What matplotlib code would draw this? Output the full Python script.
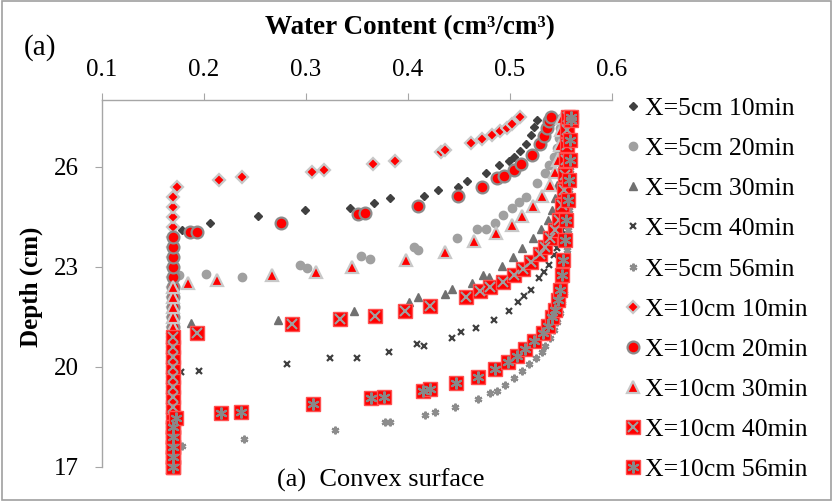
import numpy as np
import matplotlib.pyplot as plt
from matplotlib.patches import Rectangle
from matplotlib.legend_handler import HandlerTuple

plt.rcParams['font.family'] = ['Liberation Serif', 'DejaVu Serif']

# initial water content below the wetting front, and the node depths of that column
INITIAL_THETA = 0.17
COLUMN_DEPTHS = [17.0, 17.3, 17.6, 17.9, 18.2, 18.5, 18.8, 19.1, 19.4, 19.7,
                 20.0, 20.3, 20.6, 20.9, 21.2, 21.5, 21.8, 22.1, 22.4, 22.7,
                 23.0, 23.3, 23.6, 23.9, 24.2, 24.5, 24.8, 25.1]

# profiles above the front: water content (cm3/cm3) and depth (cm)
THETA_5_10 = [0.178, 0.206, 0.253, 0.299, 0.343, 0.367, 0.382, 0.416, 0.429, 0.449,
              0.458, 0.476, 0.489, 0.499, 0.504, 0.510, 0.516, 0.521, 0.524, 0.526]
DEPTH_5_10 = [24.11, 24.32, 24.53, 24.71, 24.77, 24.92, 25.07, 25.13, 25.31, 25.40,
              25.58, 25.82, 26.06, 26.18, 26.30, 26.48, 26.69, 26.96, 27.20, 27.41]

THETA_5_20 = [0.175, 0.202, 0.237, 0.294, 0.301, 0.354, 0.363, 0.406, 0.410, 0.448,
              0.468, 0.476, 0.485, 0.493, 0.502, 0.509, 0.516, 0.526, 0.534, 0.538,
              0.543, 0.546, 0.548, 0.549, 0.550]
DEPTH_5_20 = [22.76, 22.79, 22.70, 23.06, 22.97, 23.33, 23.24, 23.60, 23.51, 23.87,
              24.14, 24.14, 24.32, 24.56, 24.77, 24.95, 25.10, 25.52, 25.82, 26.06,
              26.30, 26.57, 26.87, 27.17, 27.47]

THETA_5_30 = [0.187, 0.273, 0.347, 0.401, 0.410, 0.436, 0.443, 0.463, 0.474, 0.479,
              0.492, 0.503, 0.512, 0.523, 0.530, 0.537, 0.541, 0.544, 0.546, 0.548,
              0.549, 0.550, 0.551, 0.551]
DEPTH_5_30 = [21.32, 21.41, 21.68, 21.95, 22.10, 22.19, 22.34, 22.52, 22.76, 22.70,
              23.03, 23.30, 23.57, 23.87, 24.14, 24.41, 24.71, 25.07, 25.46, 25.91,
              26.36, 26.81, 27.26, 27.50]

THETA_5_40 = [0.177, 0.195, 0.281, 0.324, 0.350, 0.381, 0.409, 0.416, 0.443, 0.452,
              0.467, 0.484, 0.499, 0.508, 0.514, 0.521, 0.528, 0.533, 0.538, 0.543,
              0.546, 0.548, 0.551, 0.553, 0.554, 0.555, 0.555, 0.556, 0.556, 0.556]
DEPTH_5_40 = [19.85, 19.88, 20.09, 20.27, 20.27, 20.45, 20.69, 20.63, 20.87, 21.05,
              21.17, 21.41, 21.68, 21.95, 22.13, 22.31, 22.67, 22.85, 23.06, 23.36,
              23.57, 23.81, 24.11, 24.35, 24.86, 25.46, 26.06, 26.66, 27.26, 27.50]

THETA_5_56 = [0.178, 0.239, 0.328, 0.377, 0.382, 0.417, 0.426, 0.446, 0.469, 0.480,
              0.487, 0.495, 0.504, 0.512, 0.519, 0.525, 0.531, 0.534, 0.539, 0.543,
              0.546, 0.549, 0.551, 0.553, 0.554, 0.555, 0.556, 0.557, 0.558, 0.558,
              0.559, 0.559, 0.559, 0.559]
DEPTH_5_56 = [17.63, 17.84, 18.11, 18.35, 18.35, 18.56, 18.65, 18.80, 19.04, 19.22,
              19.28, 19.46, 19.67, 19.88, 20.09, 20.27, 20.45, 20.63, 20.87, 21.11,
              21.35, 21.62, 21.92, 22.22, 22.61, 23.06, 23.51, 24.11, 24.71, 25.31,
              25.91, 26.51, 27.11, 27.50]

THETA_10_10 = [0.174, 0.215, 0.237, 0.306, 0.318, 0.366, 0.387, 0.432, 0.436, 0.462,
               0.473, 0.482, 0.490, 0.497, 0.502, 0.510]
DEPTH_10_10 = [25.40, 25.61, 25.70, 25.85, 25.91, 26.09, 26.18, 26.45, 26.51, 26.72,
               26.84, 26.96, 27.08, 27.17, 27.29, 27.50]

THETA_10_20 = [0.186, 0.193, 0.275, 0.351, 0.358, 0.410, 0.449, 0.473, 0.487, 0.494,
               0.504, 0.511, 0.522, 0.529, 0.533, 0.536, 0.538, 0.540]
DEPTH_10_20 = [24.05, 24.05, 24.32, 24.59, 24.62, 24.83, 25.13, 25.40, 25.67, 25.73,
               25.91, 26.09, 26.36, 26.69, 26.93, 27.17, 27.38, 27.50]

THETA_10_30 = [0.184, 0.213, 0.267, 0.310, 0.345, 0.398, 0.436, 0.465, 0.486, 0.502,
               0.512, 0.523, 0.531, 0.539, 0.544, 0.547, 0.549, 0.550, 0.551]
DEPTH_10_30 = [22.52, 22.61, 22.76, 22.85, 23.00, 23.21, 23.45, 23.78, 24.02, 24.26,
               24.53, 24.83, 25.13, 25.46, 25.85, 26.21, 26.66, 27.11, 27.47]

THETA_10_40 = [0.193, 0.286, 0.333, 0.368, 0.397, 0.422, 0.457, 0.471, 0.480, 0.493,
               0.504, 0.513, 0.521, 0.529, 0.534, 0.539, 0.544, 0.548, 0.551, 0.553,
               0.554, 0.555, 0.556, 0.556, 0.557]
DEPTH_10_40 = [21.02, 21.29, 21.44, 21.53, 21.68, 21.83, 22.10, 22.28, 22.40, 22.55,
               22.76, 22.94, 23.15, 23.39, 23.60, 23.87, 24.11, 24.41, 24.86, 25.31,
               25.76, 26.21, 26.66, 27.11, 27.50]

THETA_10_56 = [0.173, 0.217, 0.236, 0.307, 0.364, 0.376, 0.415, 0.422, 0.447, 0.469,
               0.485, 0.498, 0.507, 0.515, 0.524, 0.532, 0.537, 0.541, 0.544, 0.547,
               0.549, 0.551, 0.552, 0.554, 0.555, 0.557, 0.558, 0.559, 0.559, 0.560,
               0.560]
DEPTH_10_56 = [18.47, 18.62, 18.65, 18.89, 19.07, 19.10, 19.28, 19.34, 19.52, 19.70,
               19.94, 20.15, 20.33, 20.54, 20.78, 21.02, 21.23, 21.50, 21.71, 22.01,
               22.31, 22.76, 23.21, 23.81, 24.41, 25.01, 25.61, 26.21, 26.81, 27.41,
               27.50]

X_TICKS = [0.1, 0.2, 0.3, 0.4, 0.5, 0.6]
Y_TICKS = [17, 20, 23, 26]

SERIES = [
    ("X=5cm 10min", THETA_5_10, DEPTH_5_10,
     dict(marker="D", ms=4.5, mfc="#404040", mec="#404040"), None),
    ("X=5cm 20min", THETA_5_20, DEPTH_5_20,
     dict(marker="o", ms=6, mfc="#a0a0a0", mec="#a0a0a0"), None),
    ("X=5cm 30min", THETA_5_30, DEPTH_5_30,
     dict(marker="^", ms=6, mfc="#707070", mec="#707070"), None),
    ("X=5cm 40min", THETA_5_40, DEPTH_5_40,
     dict(marker="x", ms=4.5, mew=1.6, mec="#404040"), None),
    ("X=5cm 56min", THETA_5_56, DEPTH_5_56,
     dict(marker=(6, 2, 0), ms=5.5, mew=1.6, mec="#8c8c8c"), None),
    ("X=10cm 10min", THETA_10_10, DEPTH_10_10,
     dict(marker="D", ms=6.5, mfc="#ff0000", mec="#c8c8c8", mew=1.6), None),
    ("X=10cm 20min", THETA_10_20, DEPTH_10_20,
     dict(marker="o", ms=8.5, mfc="#ff0000", mec="#8c8c8c", mew=1.6), None),
    ("X=10cm 30min", THETA_10_30, DEPTH_10_30,
     dict(marker="^", ms=8.5, mfc="#ff0000", mec="#c8c8c8", mew=1.6), None),
    ("X=10cm 40min", THETA_10_40, DEPTH_10_40,
     dict(marker="s", ms=10, mfc="#ff0000", mec="#ff5050", mew=1.0),
     dict(marker="x", ms=7.5, mew=1.5, mec="#a0a0a0")),
    ("X=10cm 56min", THETA_10_56, DEPTH_10_56,
     dict(marker="s", ms=10, mfc="#ff0000", mec="#ff5050", mew=1.0),
     dict(marker=(6, 2, 0), ms=8.5, mew=1.5, mec="#888888")),
]

fig = plt.figure(figsize=(8.33, 5.01), dpi=100)
ax = fig.add_axes([102 / 833, 34 / 501, 510 / 833, 367 / 501])

handles, labels = [], []
for label, theta, depth, style, overlay in SERIES:
    col = [d for d in COLUMN_DEPTHS if d < depth[0] - 0.05]
    th = [INITIAL_THETA] * len(col) + list(theta)
    dp = col + list(depth)
    h, = ax.plot(th, dp, linestyle="none", clip_on=False, **style)
    if overlay is not None:
        h2, = ax.plot(th, dp, linestyle="none", clip_on=False, **overlay)
        handles.append((h, h2))
    else:
        handles.append(h)
    labels.append(label)

ax.set_xlim(0.1, 0.6)
ax.set_ylim(17, 28)
ax.xaxis.tick_top()
ax.set_xticks(X_TICKS)
ax.set_xticklabels([f"{t:.1f}" for t in X_TICKS])
ax.set_yticks(Y_TICKS)
for side in ("bottom", "right"):
    ax.spines[side].set_visible(False)
for side in ("top", "left"):
    ax.spines[side].set_color("#a6a6a6")
    ax.spines[side].set_linewidth(1.0)
ax.tick_params(axis="both", direction="out", length=5, color="#a6a6a6",
               labelsize=18)
ax.tick_params(axis="x", pad=9)
ax.tick_params(axis="y", pad=12)

fig.text(410 / 833, 1 - 28 / 501, "Water Content (cm\u00b3/cm\u00b3)",
         fontsize=19.5, fontweight="bold", ha="center", va="center")
fig.text(31 / 833, 1 - 287 / 501, "Depth (cm)", fontsize=18, fontweight="bold",
         rotation=90, ha="center", va="center")
fig.text(24 / 833, 1 - 48 / 501, "(a)", fontsize=21, ha="left", va="center")
fig.text(381 / 833, 1 - 480 / 501, "(a)  Convex surface", fontsize=19,
         ha="center", va="center")

fig.legend(handles, labels, loc="upper left",
           bbox_to_anchor=(614 / 833, 1 - 87 / 501),
           frameon=False, fontsize=18.5, handlelength=0.7,
           handletextpad=0.12, labelspacing=0.665, borderaxespad=0,
           handler_map={tuple: HandlerTuple(ndivide=1, pad=0)})

fig.patches.append(Rectangle((0.002, 0.002), 0.996, 0.996, transform=fig.transFigure,
                             fill=False, edgecolor="#a0a0a0", linewidth=1.2))

fig.savefig("out.png", dpi=100)
